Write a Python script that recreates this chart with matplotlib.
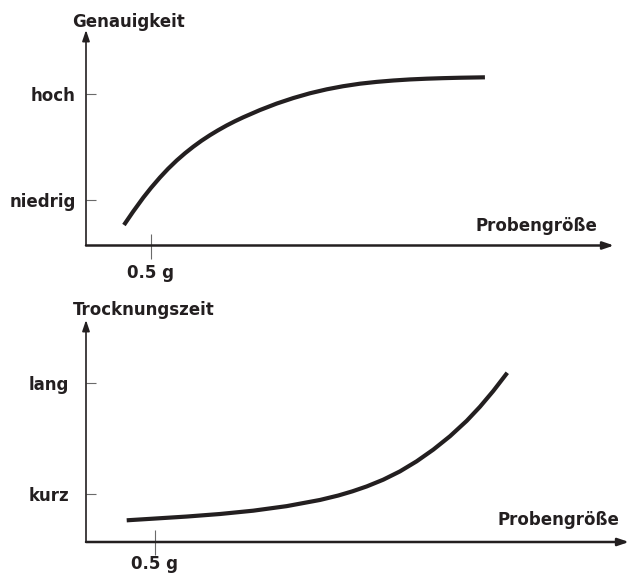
import matplotlib
matplotlib.use("Agg")
import matplotlib.pyplot as plt

plt.rcParams['font.family'] = ['DejaVu Sans']
plt.rcParams['font.weight'] = 'bold'

INK = '#231f20'
TICK = '#6a6a6a'

# --- upper panel: accuracy vs. sample size (schematic units, x in g) ---
acc_x = [0.292, 0.362, 0.441, 0.500, 0.569, 0.631, 0.698, 0.762, 0.825,
         0.888, 0.954, 1.015, 1.082, 1.146, 1.210, 1.338, 1.467, 1.595,
         1.723, 1.852, 1.977, 2.108, 2.236, 2.364, 2.492, 2.621, 2.746,
         2.877, 3.069]
acc_y = [-0.232, -0.107, 0.026, 0.117, 0.215, 0.296, 0.375, 0.443, 0.504,
         0.560, 0.613, 0.658, 0.704, 0.744, 0.781, 0.849, 0.910, 0.962,
         1.007, 1.044, 1.073, 1.097, 1.114, 1.127, 1.137, 1.144, 1.149,
         1.153, 1.157]
acc_levels = [0, 1]
acc_level_labels = ['niedrig', 'hoch']

# --- lower panel: drying time vs. sample size ---
dry_x = [0.295, 0.488, 0.730, 0.971, 1.212, 1.454, 1.696, 1.828, 1.931,
         2.034, 2.154, 2.275, 2.396, 2.517, 2.638, 2.759, 2.855, 2.951,
         3.053]
dry_y = [-0.238, -0.223, -0.204, -0.181, -0.151, -0.110, -0.054, -0.014,
         0.024, 0.068, 0.129, 0.204, 0.295, 0.401, 0.522, 0.661, 0.788,
         0.930, 1.095]
dry_levels = [0, 1]
dry_level_labels = ['kurz', 'lang']

mark_x = [0.5]
mark_labels = ['0.5 g']
x_title = 'Probengröße'

W, H = 630, 576
fig = plt.figure(figsize=(W / 100, H / 100), dpi=100)


def px_box(left, top, right, bottom):
    return [left / W, (H - bottom) / H, (right - left) / W, (bottom - top) / H]


def arrow_axes(ax, xlw, ylw):
    for spine in ax.spines.values():
        spine.set_visible(False)
    style = '-|>,head_length=0.65,head_width=0.22'
    ax.annotate('', xy=(1, 0), xytext=(0, 0), xycoords='axes fraction',
                arrowprops=dict(arrowstyle=style, color=INK, lw=xlw,
                                mutation_scale=10, shrinkA=0, shrinkB=0),
                annotation_clip=False)
    ax.annotate('', xy=(0, 1), xytext=(0, 0), xycoords='axes fraction',
                arrowprops=dict(arrowstyle=style, color=INK, lw=ylw,
                                mutation_scale=10, shrinkA=0, shrinkB=0),
                annotation_clip=False)


def panel(box, xmax, ylim, xs, ys, levels, level_labels, ytitle,
          ytitle_off, xtitle_off, ypad, xpad):
    ax = fig.add_axes(box)
    ax.set_xlim(0, xmax)
    ax.set_ylim(*ylim)
    arrow_axes(ax, 1.8, 1.2)
    ax.plot(xs, ys, color=INK, lw=3.0, solid_capstyle='butt',
            solid_joinstyle='round', clip_on=False)
    ax.set_yticks(levels, level_labels)
    ax.set_xticks(mark_x, mark_labels)
    ax.tick_params(axis='y', direction='in', length=7.2, width=0.8,
                   color=TICK, pad=ypad, labelsize=12, labelcolor=INK)
    ax.tick_params(axis='x', direction='inout', length=18, width=0.8,
                   color=TICK, pad=xpad, labelsize=12, labelcolor=INK)
    for lab in ax.get_xticklabels() + ax.get_yticklabels():
        lab.set_fontweight('bold')
    ax.annotate(ytitle, xy=(0, 1), xycoords='axes fraction',
                xytext=ytitle_off, textcoords='offset points',
                ha='left', va='center', fontsize=12, fontweight='bold',
                color=INK)
    ax.annotate(x_title, xy=(1, 0), xycoords='axes fraction',
                xytext=xtitle_off, textcoords='offset points',
                ha='right', va='center', fontsize=12, fontweight='bold',
                color=INK)
    return ax


panel(px_box(86, 30, 614, 245.5), 4.062, (-0.425, 1.602),
      acc_x, acc_y, acc_levels, acc_level_labels, 'Genauigkeit',
      (-10, 5.5), (-12, 14), 7.2, 4)

panel(px_box(86, 320, 629, 542), 3.935, (-0.434, 1.572),
      dry_x, dry_y, dry_levels, dry_level_labels, 'Trocknungszeit',
      (-9.5, 7), (-7, 16), 12, 0.5)

fig.savefig('out.png', dpi=100, facecolor='white')
